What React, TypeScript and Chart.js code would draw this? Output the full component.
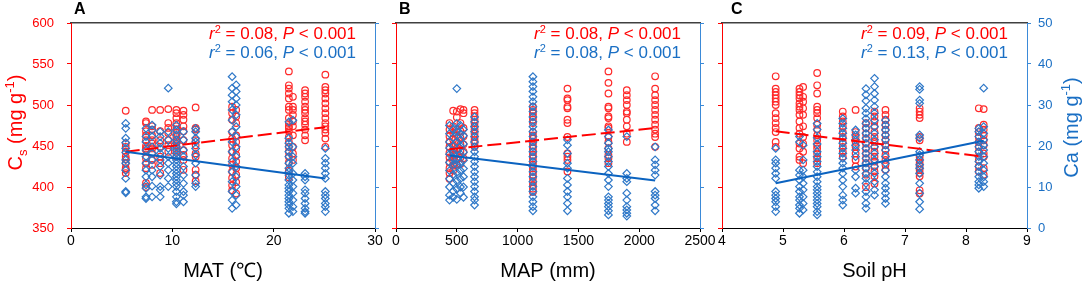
import React, { useEffect, useRef } from 'react';
import { Chart, registerables } from 'chart.js';

Chart.register(...registerables);

const FONT = 'Arial, "Liberation Sans", Helvetica, sans-serif';
const RED = '#ff0000';
const BLUE_TEXT = '#1a6fc4';
const BLUE_AXIS = '#3b8ad8';
const BLUE_PT = '#2f78c8';
const BLUE_LINE = '#0b63c0';

// ---------- Panel A: MAT ----------
const matSites = [5.4, 7.4, 8.0, 8.8, 9.6, 10.4, 11.1, 12.3, 15.9, 16.3, 21.5, 21.9, 23.1, 25.1];
const matCs: number[][] = [
  [493, 453, 449, 443, 437, 434, 429, 423, 421, 417],
  [480, 478, 468, 463, 457, 450, 447, 445, 435, 429, 423, 405, 400],
  [494, 474, 470, 463, 457, 453, 447, 441, 433, 427],
  [494, 468, 457, 449, 437, 429, 417],
  [495, 478, 472, 466, 457, 451, 443],
  [494, 490, 484, 478, 474, 470, 466, 461, 457, 455, 451, 447, 443, 437],
  [493, 488, 482, 474, 468, 457, 445, 439, 433, 421],
  [497, 472, 470, 457, 451, 441, 437, 421, 415, 407],
  [498, 490, 482, 467, 459, 451, 443, 435, 427, 419, 411, 402, 396],
  [494, 486, 478, 463, 455, 447, 439, 431, 423, 415, 406, 392],
  [541, 524, 520, 514, 508, 498, 494, 484, 478, 474, 472, 468, 461, 455, 449, 443, 437, 430, 420, 412],
  [510, 498, 494, 488, 480, 474, 463, 449, 441, 433],
  [518, 514, 510, 504, 498, 494, 490, 484, 480, 476, 470, 463, 457],
  [537, 522, 518, 514, 508, 502, 496, 490, 484, 478, 474, 470, 466, 459, 449],
];
const matCa: number[][] = [
  [25.5, 24.3, 21.9, 20.8, 19.4, 18.4, 16.6, 15.8, 14.1, 12.1, 8.9, 8.6],
  [24.3, 22.3, 21, 19, 17.4, 15.8, 14.1, 12.5, 10.5, 9.7, 7.6, 7.2],
  [25.1, 23.9, 22.3, 19.8, 18.2, 16.6, 14.1, 12.5, 10.2, 7.6],
  [23.5, 22.3, 20.7, 19.4, 18.2, 16.6, 15, 12.9, 10.1, 9.3, 7.6],
  [34.1, 23.5, 21.5, 19.4, 17.4, 15.8, 14.1, 12.1, 10.1],
  [25.1, 23.9, 22.7, 21.5, 20.7, 19.8, 19, 18.2, 17.4, 16.6, 15.8, 15, 14.1, 13.3, 12.5, 11.7, 10.9, 10.1, 8.9, 7.6, 6.4, 5.9],
  [23.5, 21.5, 19, 17.4, 15, 12.9, 10.9, 8.9, 8.0, 6.4],
  [24.3, 23.5, 21.9, 21, 19.4, 17.8, 15.8, 12.9, 10.9, 10.1],
  [36.9, 34.1, 32.4, 30.8, 28.8, 26.3, 23.5, 21, 18.6, 16.2, 13.7, 11.3, 8.9, 6.8, 4.8],
  [34.9, 33.3, 31.6, 30, 27.6, 24.7, 22.3, 19.8, 17.4, 15, 12.5, 10.1, 8, 5.6],
  [25.9, 21.9, 20.7, 19.8, 18.6, 17.4, 15.8, 14.6, 13.7, 12.9, 11.7, 10.5, 9.7, 8.9, 8.0, 7.2, 6.4, 5.6, 4.8, 3.6],
  [26.3, 19.8, 17.4, 15.8, 13.3, 11.7, 10.1, 8.5, 6.8, 5.2, 4.0],
  [13.3, 12.5, 11.7, 9.3, 8.5, 7.2, 6.0, 4.8, 4.0, 3.6],
  [19.4, 17, 15.8, 14.6, 13.3, 12.1, 8.9, 8.0, 7.2, 6.0, 5.2, 4.0],
];
const matFitX = [5.4, 25.1];
const matCsFit = [443, 473];
const matCaFit = [18.6, 12.1];

// ---------- Panel B: MAP ----------
const mapSites = [440, 470, 500, 530, 555, 646, 1126, 1410, 1747, 1898, 2131];
const mapCs: number[][] = [
  [478, 470, 462, 455, 449, 442, 436, 430, 423, 417, 410],
  [493, 474, 466, 458, 451, 445, 439, 432, 426, 420],
  [492, 485, 470, 463, 455, 447, 440, 434, 427],
  [495, 478, 468, 460, 452, 444, 436, 428],
  [494, 490, 472, 462, 452, 443, 435],
  [494, 490, 486, 482, 478, 474, 470, 465, 461, 457, 453, 449],
  [498, 494, 490, 486, 482, 478, 467, 463, 459, 455, 451, 447, 443, 439, 435, 431, 427, 423, 419, 415, 411, 406, 402, 398, 394],
  [520, 508, 506, 498, 496, 482, 478, 461, 441, 437, 433, 419],
  [541, 527, 514, 498, 496, 486, 484, 474, 472, 461, 455, 447, 439, 435, 429],
  [518, 512, 506, 500, 492, 490, 482, 474, 465, 455],
  [535, 520, 512, 506, 500, 494, 488, 482, 476, 470, 465, 461, 449],
];
const mapCa: number[][] = [
  [25, 23, 21, 19.5, 18, 16, 14, 12, 10, 8, 6.8],
  [24, 22, 20, 18.5, 17, 15.5, 13, 11, 9, 7.5],
  [34, 25.5, 23.5, 21, 19, 17, 15.5, 13.5, 11.5, 9.5, 7],
  [25, 23, 21.5, 20, 18, 16, 14, 12, 10, 8.5],
  [24, 22.5, 20.5, 18.5, 16.5, 14.5, 12.5, 10, 7.5],
  [27.1, 25.9, 24.7, 23.5, 22.3, 21, 19.8, 18.6, 17.4, 16.2, 15, 13.7, 12.5, 11.3, 10.1, 8.9, 7.6, 6.8, 5.6],
  [36.9, 35.7, 34.5, 33.3, 32, 30.8, 29.6, 28.4, 27.1, 25.9, 24.7, 23.5, 22.3, 21, 19.8, 18.6, 17.4, 16.2, 15, 13.7, 12.5, 11.3, 10.1, 8.9, 7.6, 6.4, 5.2, 4.2],
  [21.5, 20.2, 18.2, 15.8, 14.6, 12.1, 10.5, 8.9, 7.6, 6, 4.2],
  [23.9, 22.3, 20.7, 19.4, 18.6, 17.4, 16.2, 15, 13.3, 11.7, 10.1, 7.6, 6.8, 6, 5.2, 4.2, 3.2],
  [22.3, 13.3, 12.1, 11.3, 8.5, 6.8, 5.2, 4.4, 3.6, 2.9],
  [19.8, 16.6, 15.4, 14.1, 12.9, 8.9, 8, 7.2, 5.6, 4.2],
];
const mapFitX = [440, 2131];
const mapCsFit = [446, 472];
const mapCaFit = [17.7, 11.6];

// ---------- Panel C: Soil pH ----------
const phSites = [4.88, 5.27, 5.33, 5.56, 5.98, 6.19, 6.36, 6.5, 6.68, 7.24, 8.21, 8.29];
const phCs: number[][] = [
  [535, 520, 516, 512, 508, 504, 500, 490, 484, 478, 472, 467, 455, 449],
  [520, 516, 512, 508, 502, 498, 494, 488, 480, 472, 465, 453, 447, 437, 433],
  [522, 510, 504, 496, 488, 474, 461, 453, 443, 429],
  [539, 524, 514, 498, 494, 490, 484, 476, 470, 463, 457, 451, 447, 441, 435, 429],
  [492, 486, 480, 474, 467, 461, 455, 449, 443, 437],
  [494, 467, 461, 455, 449, 441, 433, 425],
  [478, 472, 465, 459, 453, 447, 441, 435, 429, 423, 415, 400],
  [492, 486, 480, 474, 467, 461, 455, 449, 443, 437, 431, 425, 419, 413, 404],
  [494, 488, 482, 476, 470, 463, 457, 451, 445, 439, 433, 427, 421],
  [496, 492, 488, 484, 461, 457, 437, 433, 429, 425, 421, 417, 413, 396, 392],
  [496, 472, 467, 461, 455, 449, 443, 433, 425, 419],
  [495, 476, 470, 463, 457, 451, 441, 437, 423, 415],
];
const phCa: number[][] = [
  [19.4, 16.6, 15.8, 14.6, 13.3, 12.1, 8.9, 8, 7.2, 6.4, 5.2, 4],
  [22.3, 21, 14.1, 12.9, 11.7, 10.1, 8.9, 7.6, 6.8, 5.6, 4.8, 3.6],
  [20.2, 16.6, 14.1, 12.5, 10.9, 9.3, 7.6, 6, 4.4],
  [25.5, 24, 22, 20.5, 18.6, 17.4, 16.2, 15, 13.7, 12.5, 11.3, 10.1, 9.3, 8.5, 7.6, 6.8, 6, 5.2, 4, 3.2],
  [26.7, 25.5, 24.3, 23.1, 21.9, 20.7, 19.4, 18.2, 17, 15.8, 14.6, 13.3, 11.7, 10.1, 8, 6.8, 5.6],
  [23.9, 22.7, 21.5, 20.2, 19, 17.4, 14.1, 12.5, 9.7, 8.5],
  [34, 32.5, 31, 29.2, 28, 26.7, 25.5, 24.3, 23.1, 21.9, 20.7, 19.4, 18.2, 17, 15.8, 14.6, 13.3, 12.1, 10.9, 8.9, 7.6, 6, 4.8],
  [36.5, 34.5, 32.8, 31.2, 29.6, 28, 26.3, 24.7, 23.1, 21.5, 19.8, 18.2, 16.6, 15, 13.3, 11.3, 9.3, 8],
  [26.3, 25.1, 23.9, 22.7, 21.5, 20.2, 19, 17.4, 15.8, 14.1, 12.5, 10.9, 9.7, 8.5, 7.2, 6],
  [34.5, 33.8, 31.2, 30.4, 22.7, 21.9, 18.6, 17.8, 16.6, 15.4, 14.6, 13.3, 10.9, 8.5, 6.4, 4.6],
  [24.3, 23.5, 22.3, 21, 19.8, 18.6, 17.4, 16.2, 15, 13.7, 12.5, 11.3, 10.5, 9.7],
  [34.1, 24.7, 23.1, 21.5, 20.2, 19, 17.4, 15.8, 14.1, 12.5, 11.3, 10.1],
];
const phFitX = [4.88, 8.29];
const phCsFit = [468, 437];
const phCaFit = [10.9, 21.3];

// ---------- axis ranges / labels ----------
const csRange = [350, 600];
const caRange = [0, 50];

type Panel = {
  letter: string;
  sites: number[];
  cs: number[][];
  ca: number[][];
  fitX: number[];
  csFit: number[];
  caFit: number[];
  xRange: number[];
  xStep: number;
  xTitle: string;
  r2: string[];
  left: number;
  right: number;
  leftLabels: boolean;
  rightLabels: boolean;
  letterX: number;
};

const panels: Panel[] = [
  { letter: 'A', sites: matSites, cs: matCs, ca: matCa, fitX: matFitX, csFit: matCsFit, caFit: matCaFit,
    xRange: [0, 30], xStep: 10, xTitle: 'MAT (\u2103)', r2: ['0.08', '0.06'],
    left: 71, right: 375, leftLabels: true, rightLabels: false, letterX: 74 },
  { letter: 'B', sites: mapSites, cs: mapCs, ca: mapCa, fitX: mapFitX, csFit: mapCsFit, caFit: mapCaFit,
    xRange: [0, 2500], xStep: 500, xTitle: 'MAP (mm)', r2: ['0.08', '0.08'],
    left: 396, right: 700, leftLabels: false, rightLabels: false, letterX: 399 },
  { letter: 'C', sites: phSites, cs: phCs, ca: phCa, fitX: phFitX, csFit: phCsFit, caFit: phCaFit,
    xRange: [4, 9], xStep: 1, xTitle: 'Soil pH', r2: ['0.09', '0.13'],
    left: 722, right: 1027, leftLabels: false, rightLabels: true, letterX: 731 },
];

type Seg = { t: string; size?: number; italic?: boolean; bold?: boolean; dy?: number };

function segFont(s: Seg, base: number) {
  return `${s.italic ? 'italic ' : ''}${s.bold ? 'bold ' : ''}${s.size ?? base}px ${FONT}`;
}

function drawSegs(ctx: CanvasRenderingContext2D, segs: Seg[], x: number, y: number,
  align: 'left' | 'right' | 'center', color: string, base: number) {
  ctx.fillStyle = color;
  ctx.textAlign = 'left';
  ctx.textBaseline = 'alphabetic';
  let total = 0;
  const widths = segs.map((s) => {
    ctx.font = segFont(s, base);
    const w = ctx.measureText(s.t).width;
    total += w;
    return w;
  });
  let cx = align === 'left' ? x : align === 'right' ? x - total : x - total / 2;
  segs.forEach((s, i) => {
    ctx.font = segFont(s, base);
    ctx.fillText(s.t, cx, y + (s.dy ?? 0));
    cx += widths[i];
  });
}

function statSegs(r2: string): Seg[] {
  return [
    { t: 'r', italic: true },
    { t: '2', size: 11, dy: -6 },
    { t: ` = ${r2}, ` },
    { t: 'P', italic: true },
    { t: ' < 0.001' },
  ];
}

function makeConfig(p: Panel): any {
  const W = 1084;
  const leftW = p.leftLabels ? 50 : 10;
  const rightW = p.rightLabels ? 40 : 10;
  const redPts = p.sites.flatMap((x, i) => p.cs[i].map((y) => ({ x, y })));
  const bluePts = p.sites.flatMap((x, i) => p.ca[i].map((y) => ({ x, y })));
  const redFit = p.fitX.map((x, i) => ({ x, y: p.csFit[i] }));
  const blueFit = p.fitX.map((x, i) => ({ x, y: p.caFit[i] }));

  const textPlugin = {
    id: 'panelText',
    afterDraw(chart: any) {
      const ctx: CanvasRenderingContext2D = chart.ctx;
      const area = chart.chartArea;
      ctx.save();
      drawSegs(ctx, [{ t: p.letter, bold: true }], p.letterX, 14, 'left', '#000', 16);
      drawSegs(ctx, statSegs(p.r2[0]), area.right - 19, 38.5, 'right', RED, 17);
      drawSegs(ctx, statSegs(p.r2[1]), area.right - 19, 57.5, 'right', BLUE_TEXT, 17);
      if (p.leftLabels) {
        ctx.save();
        ctx.translate(15, 122.5);
        ctx.rotate(-Math.PI / 2);
        drawSegs(ctx, [
          { t: 'C' }, { t: 's', size: 13, dy: 5 }, { t: ' (mg g' }, { t: '-1', size: 13, dy: -8 }, { t: ')' },
        ], 0, 7, 'center', RED, 20);
        ctx.restore();
      }
      if (p.rightLabels) {
        ctx.save();
        ctx.translate(1071, 127.5);
        ctx.rotate(-Math.PI / 2);
        drawSegs(ctx, [
          { t: 'Ca (mg g' }, { t: '-1', size: 13, dy: -8 }, { t: ')' },
        ], 0, 7, 'center', BLUE_TEXT, 20);
        ctx.restore();
      }
      ctx.restore();
    },
  };

  return {
    type: 'scatter',
    data: {
      datasets: [
        { label: 'Ca fit', data: blueFit, yAxisID: 'y2', showLine: true, borderColor: BLUE_LINE,
          borderWidth: 2, pointRadius: 0, fill: false },
        { label: 'Cs fit', data: redFit, yAxisID: 'y', showLine: true, borderColor: RED,
          borderWidth: 2, borderDash: [14, 5], pointRadius: 0, fill: false },
        { label: 'Ca', data: bluePts, yAxisID: 'y2', showLine: false, pointStyle: 'rectRot',
          pointRadius: 3.8, pointBorderColor: BLUE_PT, pointBackgroundColor: 'rgba(0,0,0,0)', pointBorderWidth: 1.2 },
        { label: 'Cs', data: redPts, yAxisID: 'y', showLine: false, pointStyle: 'circle',
          pointRadius: 3.3, pointBorderColor: '#ff2a2a', pointBackgroundColor: 'rgba(0,0,0,0)', pointBorderWidth: 1.2 },
      ],
    },
    options: {
      responsive: false,
      animation: false,
      events: [],
      layout: { padding: { left: p.left - leftW, right: W - p.right - rightW, top: 23, bottom: 0 } },
      plugins: { legend: { display: false }, tooltip: { enabled: false }, title: { display: false } },
      scales: {
        x: {
          type: 'linear', position: 'bottom', min: p.xRange[0], max: p.xRange[1],
          ticks: { stepSize: p.xStep, autoSkip: false, maxRotation: 0, color: '#000',
            font: { family: FONT, size: 14 }, padding: 1, callback: (v: any) => String(v) },
          grid: { display: true, drawOnChartArea: false, drawTicks: true, tickLength: 4, color: '#000' },
          border: { display: true, color: '#000', width: 1 },
          title: { display: true, text: p.xTitle, color: '#000', font: { family: FONT, size: 20 },
            padding: { top: 0, bottom: 5 } },
          afterFit: (s: any) => { s.height = 60; },
        },
        xTop: {
          type: 'linear', axis: 'x', position: 'top', min: p.xRange[0], max: p.xRange[1],
          ticks: { display: false },
          grid: { display: false },
          border: { display: true, color: '#404040', width: 1.5 },
          afterFit: (s: any) => { s.height = 0; },
        },
        y: {
          type: 'linear', position: 'left', min: csRange[0], max: csRange[1],
          ticks: { stepSize: 50, color: p.leftLabels ? RED : 'rgba(0,0,0,0)',
            font: { family: FONT, size: 13 }, padding: 13, callback: (v: any) => String(v) },
          grid: { display: true, drawOnChartArea: false, drawTicks: true, tickLength: 4, color: RED },
          border: { display: true, color: RED, width: 1 },
          afterFit: (s: any) => { s.width = leftW; },
        },
        y2: {
          type: 'linear', position: 'right', min: caRange[0], max: caRange[1],
          ticks: { stepSize: 10, color: p.rightLabels ? BLUE_TEXT : 'rgba(0,0,0,0)',
            font: { family: FONT, size: 13 }, padding: 7, callback: (v: any) => String(v) },
          grid: { display: true, drawOnChartArea: false, drawTicks: true, tickLength: 4, color: BLUE_AXIS },
          border: { display: true, color: BLUE_AXIS, width: 1 },
          afterFit: (s: any) => { s.width = rightW; },
        },
      },
    },
    plugins: [textPlugin],
  };
}

function PanelChart({ p }: { p: Panel }) {
  const ref = useRef<HTMLCanvasElement>(null);
  useEffect(() => {
    if (!ref.current) return;
    const chart = new Chart(ref.current, makeConfig(p));
    return () => chart.destroy();
  }, [p]);
  return (
    <canvas
      ref={ref}
      width={1084}
      height={288}
      style={{ position: 'absolute', left: 0, top: 0, width: 1084, height: 288 }}
    />
  );
}

export default function App() {
  return (
    <div style={{ position: 'absolute', left: 0, top: 0, width: 1084, height: 288, background: '#fff' }}>
      {panels.map((p) => (
        <PanelChart key={p.letter} p={p} />
      ))}
    </div>
  );
}
